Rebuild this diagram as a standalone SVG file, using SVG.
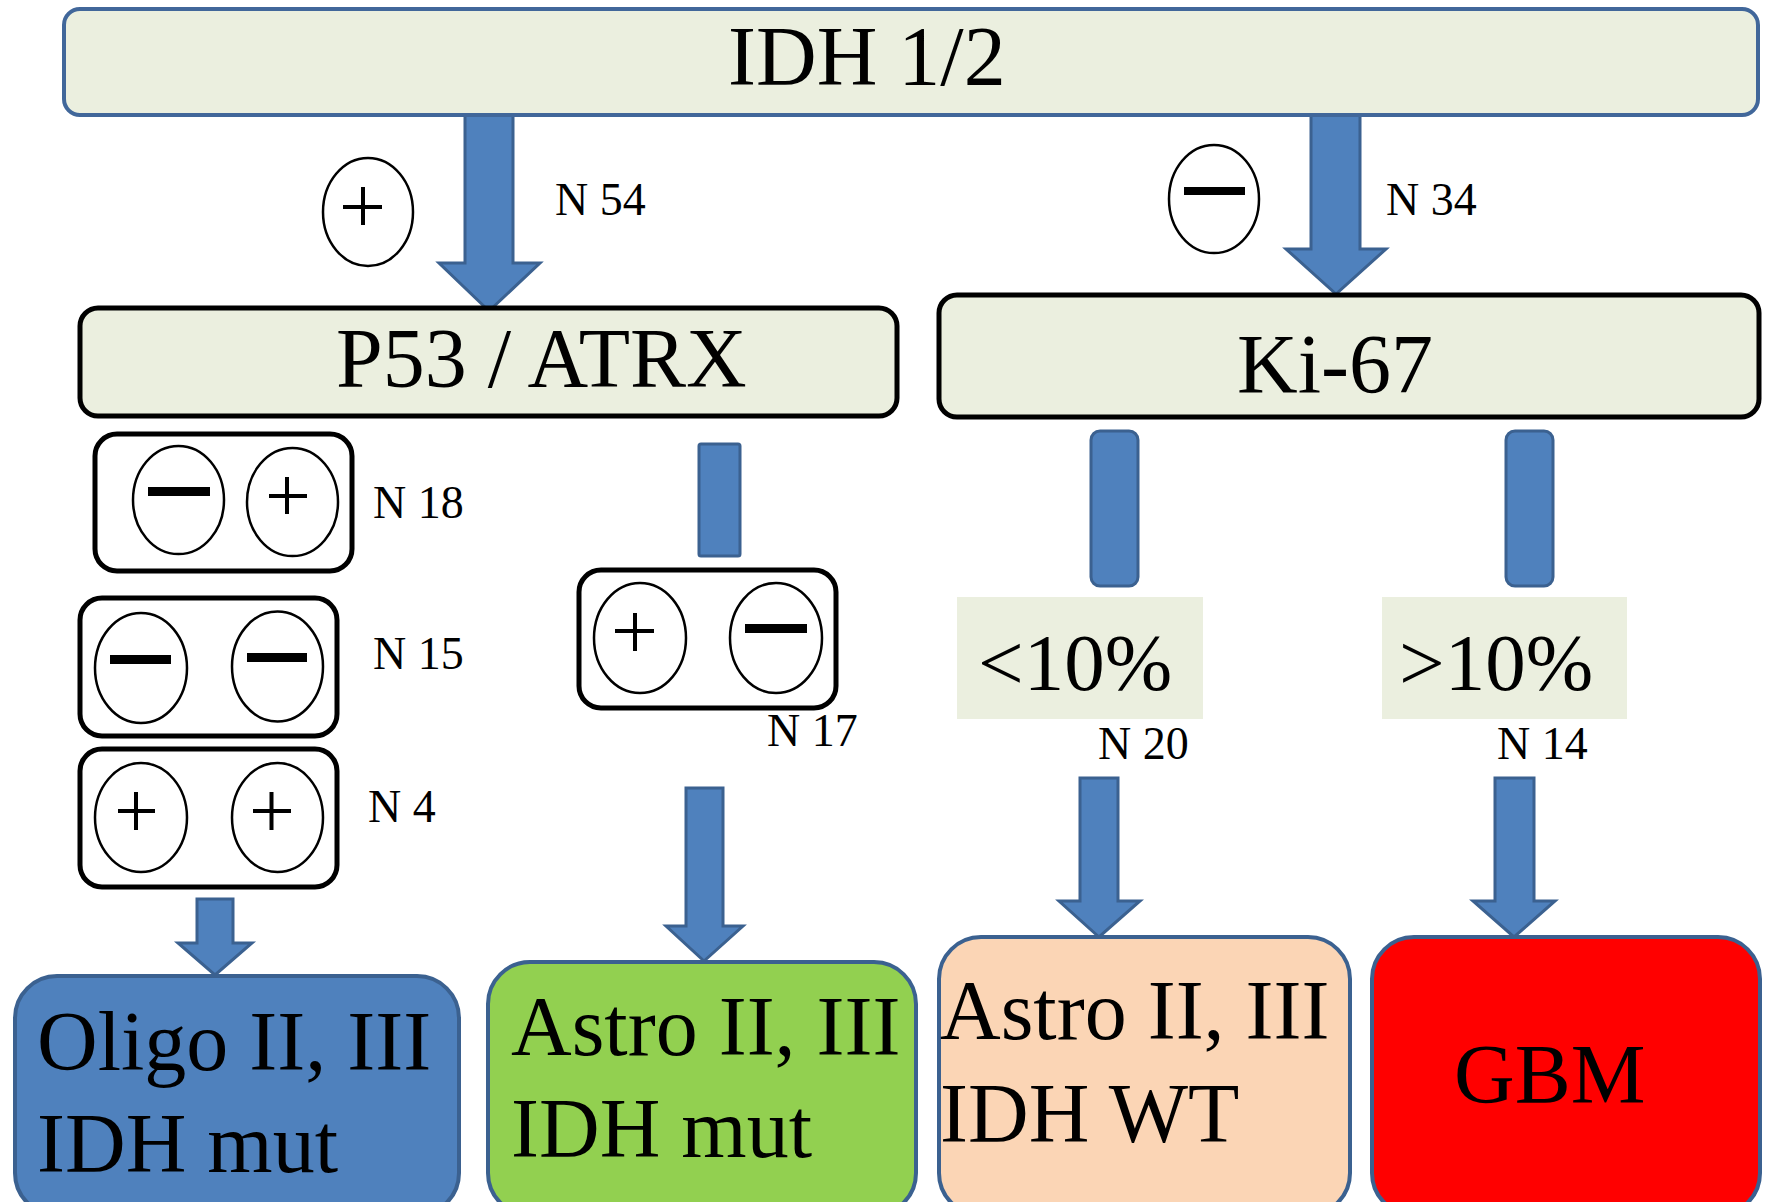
<svg xmlns="http://www.w3.org/2000/svg" width="1769" height="1202" viewBox="0 0 1769 1202">
<style>
text{font-family:"Liberation Serif","Times New Roman",serif;fill:#000}
.big{font-size:84px}
.pct{font-size:81px}
.n{font-size:46px}
.hdr{fill:#EBEFDF}
.blk{stroke:#000;stroke-width:5}
.ell{fill:#fff;stroke:#000;stroke-width:2.5}
.pl{stroke:#000;stroke-width:4;fill:none}
.mi{fill:#000}
.arr{fill:#4F81BD;stroke:#3B6190;stroke-width:3;stroke-linejoin:miter}
.res{stroke:#3B6190;stroke-width:4}
</style>
<rect width="1769" height="1202" fill="#fff"/>
<g id="connectors">
<polygon class="arr" points="465,112 513,112 513,263 540,263 489,311 439,263 465,263"/>
<polygon class="arr" points="1311,112 1360,112 1360,249 1386,249 1336,294 1286,249 1311,249"/>
<rect class="arr" x="699" y="444" width="41" height="112" rx="2"/>
<polygon class="arr" points="686,788 723,788 723,926 743,926 704,961 666,926 686,926"/>
<polygon class="arr" points="197,899 233,899 233,943 252,943 215,975 178,943 197,943"/>
<rect class="arr" x="1091" y="431" width="47" height="155" rx="9"/>
<rect class="arr" x="1506" y="431" width="47" height="155" rx="9"/>
<polygon class="arr" points="1080,778 1118,778 1118,901 1140,901 1099,937 1059,901 1080,901"/>
<polygon class="arr" points="1495,778 1534,778 1534,901 1555,901 1514,937 1473,901 1495,901"/>
</g>
<g id="idh">
<rect class="hdr" x="64" y="9" width="1694" height="106" rx="16" stroke="#41679A" stroke-width="4"/>
<text class="big" x="728" y="85">IDH 1/2</text>
</g>
<g id="pos-label">
<ellipse class="ell" cx="368" cy="212" rx="45" ry="54"/>
<path class="pl" d="M343,207H382M363,187V225"/>
<text class="n" x="555" y="215">N 54</text>
</g>
<g id="neg-label">
<ellipse class="ell" cx="1214" cy="199" rx="45" ry="54"/>
<rect class="mi" x="1184" y="187" width="61" height="8"/>
<text class="n" x="1386" y="215">N 34</text>
</g>
<g id="p53">
<rect class="hdr blk" x="80" y="308" width="817" height="108" rx="18"/>
<text class="big" x="336" y="387">P53 / ATRX</text>
</g>
<g id="ki67">
<rect class="hdr blk" x="939" y="295" width="820" height="122" rx="18"/>
<text class="big" x="1237" y="393">Ki-67</text>
</g>
<g id="n18">
<rect x="95" y="434" width="257" height="137" rx="22" fill="none" class="blk"/>
<ellipse class="ell" cx="178.5" cy="500" rx="45.5" ry="54"/>
<rect class="mi" x="148" y="487" width="62" height="9"/>
<ellipse class="ell" cx="292.5" cy="502" rx="45.5" ry="54"/>
<path class="pl" d="M269,496H307M287,477V514"/>
<text class="n" x="373" y="518">N 18</text>
</g>
<g id="n15">
<rect x="80" y="598" width="257" height="138" rx="22" fill="none" class="blk"/>
<ellipse class="ell" cx="141" cy="668" rx="46" ry="55"/>
<rect class="mi" x="110" y="655" width="61" height="9"/>
<ellipse class="ell" cx="277.5" cy="666.5" rx="45.5" ry="55"/>
<rect class="mi" x="247" y="653" width="60" height="9"/>
<text class="n" x="373" y="669">N 15</text>
</g>
<g id="n4">
<rect x="80" y="749" width="257" height="138" rx="22" fill="none" class="blk"/>
<ellipse class="ell" cx="141" cy="817.5" rx="46" ry="54.5"/>
<path class="pl" d="M118,811H155M136,792V830"/>
<ellipse class="ell" cx="277.5" cy="817.5" rx="45.5" ry="54.5"/>
<path class="pl" d="M253,811H291M271.5,792V830"/>
<text class="n" x="368" y="822">N 4</text>
</g>
<g id="n17">
<rect x="579" y="570" width="257" height="138" rx="22" fill="none" class="blk"/>
<ellipse class="ell" cx="640" cy="638" rx="46" ry="55"/>
<path class="pl" d="M615,631H654M635,613V651"/>
<ellipse class="ell" cx="776" cy="638" rx="46" ry="55"/>
<rect class="mi" x="745" y="624" width="62" height="9"/>
<text class="n" x="767" y="746">N 17</text>
</g>
<g id="lt10">
<rect class="hdr" x="957" y="597" width="246" height="122"/>
<text class="pct" x="978" y="690">&lt;10%</text>
<text class="n" x="1098" y="759">N 20</text>
</g>
<g id="gt10">
<rect class="hdr" x="1382" y="597" width="245" height="122"/>
<text class="pct" x="1399" y="690">&gt;10%</text>
<text class="n" x="1497" y="759">N 14</text>
</g>
<g id="oligo">
<rect class="res" x="15" y="976" width="444" height="239" rx="42" fill="#4F81BD"/>
<text class="big" x="37" y="1070">Oligo II, III</text>
<text class="big" x="37" y="1172">IDH mut</text>
</g>
<g id="astro-mut">
<rect class="res" x="488" y="962" width="428" height="253" rx="42" fill="#92D050"/>
<text class="big" x="511" y="1055">Astro II, III</text>
<text class="big" x="511" y="1157">IDH mut</text>
</g>
<g id="astro-wt">
<rect class="res" x="939" y="937" width="411" height="278" rx="42" fill="#FBD5B5"/>
<text class="big" x="940" y="1039">Astro II, III</text>
<text class="big" x="940" y="1142">IDH WT</text>
</g>
<g id="gbm">
<rect class="res" x="1372" y="937" width="388" height="278" rx="42" fill="#FF0000"/>
<text class="big" x="1454" y="1103">GBM</text>
</g>
</svg>
